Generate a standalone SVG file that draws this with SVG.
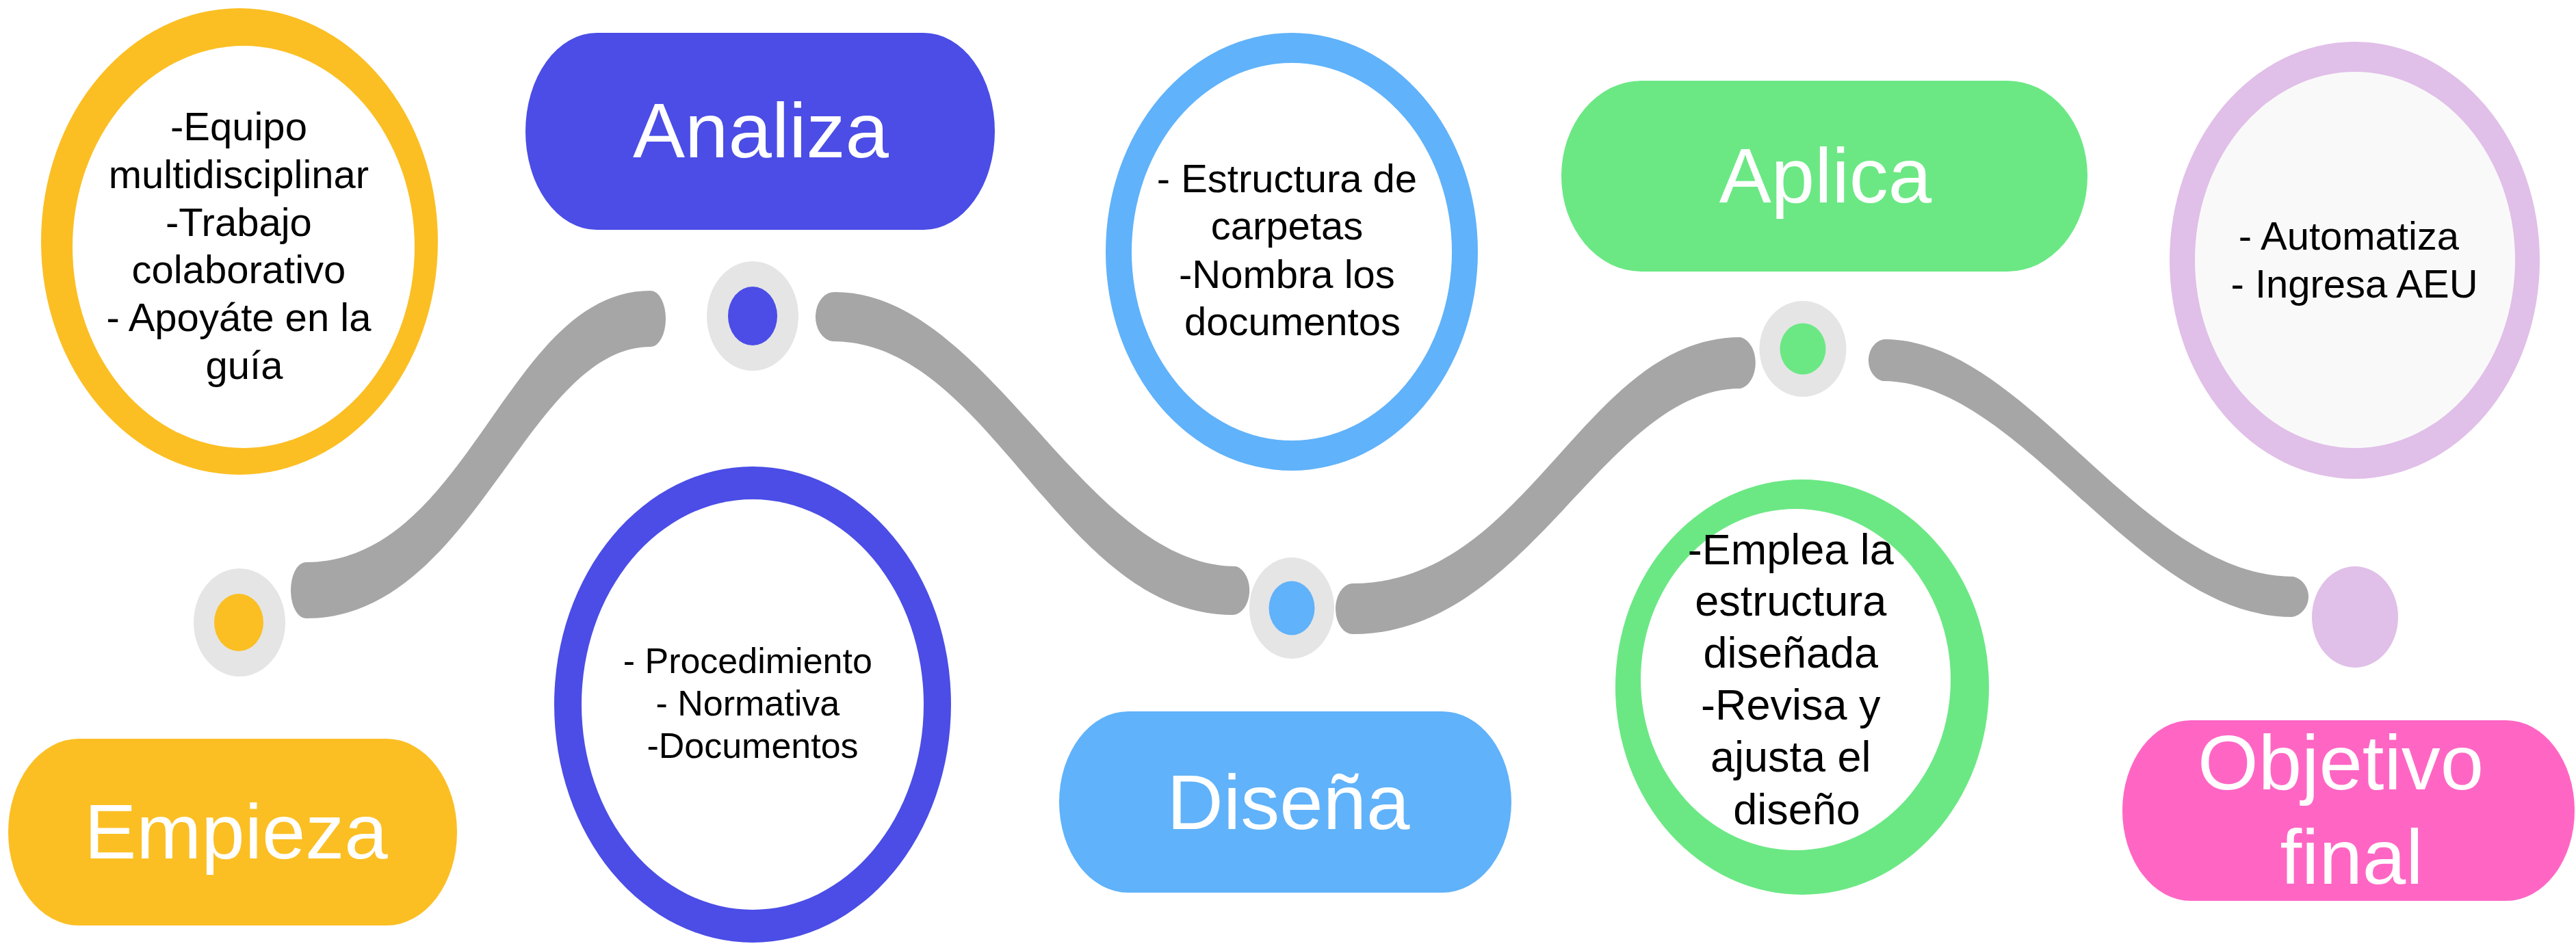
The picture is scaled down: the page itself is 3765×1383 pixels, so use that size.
<svg xmlns="http://www.w3.org/2000/svg" width="3765" height="1383" viewBox="0 0 3765 1383">
<style>
  text { font-family: "Liberation Sans", Arial, sans-serif; }
  .lbl { fill: #FFFFFF; font-size: 114px; text-anchor: middle; }
  .note { fill: #000000; text-anchor: middle; }
  .band { fill: #A6A6A6; }
  .halo { fill: #E5E5E5; }
  .hole { fill: #FFFFFF; }
  .yellow { fill: #FBBF24; }
  .indigo { fill: #4B4DE6; }
  .blue { fill: #60B2FA; }
  .green { fill: #6BE884; }
  .pink { fill: #FF66C4; }
  .lilac { fill: #E0BFE8; }
</style>
<rect width="3765" height="1383" fill="#FFFFFF"/>

<g id="connectors">
  <path class="band" d="M446,822 C688,822 739,425 951,425 A22,41 0 0 1 951,507 C770,507 693,904 448,904 A22,41 0 0 1 446,822 Z"/>
  <path class="band" d="M1221,427 C1445,427 1584,828 1807,828 A25,36 0 0 1 1802,899 C1549,899 1449,499 1217,499 A27,36 0 0 1 1221,427 Z"/>
  <path class="band" d="M1976,853 C2235,853 2315,493 2544,493 A26,38 0 0 1 2544,568 C2345,568 2235,927 1978,927 A25,37 0 0 1 1976,853 Z"/>
  <path class="band" d="M2754,496 C2963,496 3127,843 3352,843 A28,30 0 0 1 3350,902 C3122,902 2957,557 2751,557 A26,31 0 0 1 2754,496 Z"/>
</g>

<g id="empieza-notas">
  <ellipse class="yellow" cx="350" cy="353" rx="290" ry="341"/>
  <ellipse class="hole" cx="356" cy="361" rx="250" ry="294"/>
  <text class="note" font-size="58">
    <tspan x="357" y="205">-Equipo</tspan>
    <tspan x="357" y="275">multidisciplinar</tspan>
    <tspan x="357" y="345">-Trabajo</tspan>
    <tspan x="357" y="414">colaborativo</tspan>
    <tspan x="357" y="484">- Apoyáte en la</tspan>
    <tspan x="357" y="554">guía</tspan>
  </text>
</g>

<g id="empieza-punto">
  <ellipse class="halo" cx="350" cy="910" rx="67" ry="79"/>
  <ellipse class="yellow" cx="349" cy="910" rx="36" ry="42"/>
</g>

<g id="empieza">
  <rect class="yellow" x="12" y="1080" width="656" height="273" rx="103" ry="136.5"/>
  <text class="lbl" x="345" y="1255">Empieza</text>
</g>

<g id="analiza">
  <rect class="indigo" x="768" y="48" width="686" height="288" rx="104" ry="144"/>
  <text class="lbl" x="1112" y="230">Analiza</text>
</g>

<g id="analiza-punto">
  <ellipse class="halo" cx="1100" cy="462" rx="67" ry="80"/>
  <ellipse class="indigo" cx="1100" cy="462" rx="36" ry="43"/>
</g>

<g id="analiza-notas">
  <ellipse class="indigo" cx="1100" cy="1030" rx="290" ry="348"/>
  <ellipse class="hole" cx="1100" cy="1030" rx="250" ry="300"/>
  <text class="note" font-size="52">
    <tspan x="1100" y="984">- Procedimiento</tspan>
    <tspan x="1100" y="1046">- Normativa</tspan>
    <tspan x="1100" y="1108">-Documentos</tspan>
  </text>
</g>

<g id="disena-notas">
  <ellipse class="blue" cx="1888" cy="368" rx="272" ry="320"/>
  <ellipse class="hole" cx="1888" cy="368" rx="234" ry="276"/>
  <text class="note" font-size="58">
    <tspan x="1889" y="281">- Estructura de</tspan>
    <tspan x="1889" y="350">carpetas</tspan>
    <tspan x="1889" y="421">-Nombra los</tspan>
    <tspan x="1889" y="490">documentos</tspan>
  </text>
</g>

<g id="disena-punto">
  <ellipse class="halo" cx="1888" cy="889" rx="62" ry="74"/>
  <ellipse class="blue" cx="1888" cy="889" rx="33.5" ry="39.5"/>
</g>

<g id="disena">
  <rect class="blue" x="1548" y="1040" width="661" height="265" rx="101" ry="132.5"/>
  <text class="lbl" x="1883" y="1212">Diseña</text>
</g>

<g id="aplica">
  <rect class="green" x="2282" y="118" width="769" height="279" rx="117" ry="139.5"/>
  <text class="lbl" x="2668" y="296">Aplica</text>
</g>

<g id="aplica-punto">
  <ellipse class="halo" cx="2635" cy="510" rx="63.5" ry="70"/>
  <ellipse class="green" cx="2635" cy="510" rx="33.5" ry="37.5"/>
</g>

<g id="aplica-notas">
  <ellipse class="green" cx="2634" cy="1004.5" rx="273" ry="303.5"/>
  <ellipse class="hole" cx="2624.5" cy="993.5" rx="226.5" ry="249.5"/>
  <text class="note" font-size="63">
    <tspan x="2626" y="825">-Emplea la</tspan>
    <tspan x="2626" y="900">estructura</tspan>
    <tspan x="2626" y="976">diseñada</tspan>
    <tspan x="2626" y="1052">-Revisa y</tspan>
    <tspan x="2626" y="1128">ajusta el</tspan>
    <tspan x="2626" y="1205">diseño</tspan>
  </text>
</g>

<g id="objetivo-notas">
  <ellipse class="lilac" cx="3441.5" cy="380.5" rx="270.5" ry="319.5"/>
  <ellipse fill="#F9F9F9" cx="3442" cy="380" rx="234" ry="275"/>
  <text class="note" font-size="58">
    <tspan x="3441" y="365">- Automatiza</tspan>
    <tspan x="3441" y="435">- Ingresa AEU</tspan>
  </text>
</g>

<g id="objetivo-punto">
  <ellipse class="lilac" cx="3442" cy="902" rx="63" ry="74"/>
</g>

<g id="objetivo-final">
  <rect class="pink" x="3102" y="1053" width="661" height="264" rx="100" ry="132"/>
  <text class="lbl">
    <tspan x="3437" y="1154">Objetivo</tspan>
    <tspan x="3437" y="1292">final</tspan>
  </text>
</g>
</svg>
